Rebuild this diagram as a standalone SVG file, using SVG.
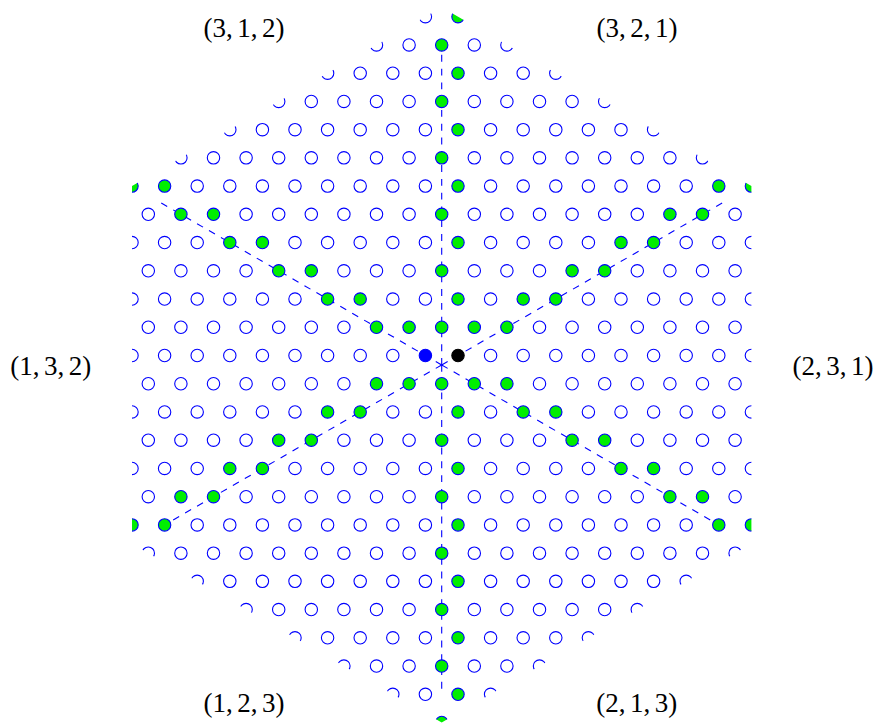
<svg xmlns="http://www.w3.org/2000/svg" width="876" height="723" viewBox="0 0 876 723">
<style>
.o circle{fill:#ffffff;stroke:#0000ff;stroke-width:1.1}
.g circle{fill:#00ee00;stroke:#0000ff;stroke-width:1.1}
.wall line{stroke:#0000ff;stroke-width:1.1;stroke-dasharray:6.89 6.89;fill:none}
.lbl{font-family:"Liberation Serif","DejaVu Serif",serif;font-size:27px;fill:#000000;text-anchor:middle}
</style>
<defs>
<clipPath id="hex"><polygon points="441.7,7.3 751.4,186.11 751.4,543.71 441.7,722.52 132,543.71 132,186.11"/></clipPath>
</defs>
<rect width="876" height="723" fill="#ffffff"/>
<g id="connectors" class="wall">
<line x1="441.7" y1="364.91" x2="441.7" y2="40.91"/>
<line x1="441.7" y1="364.91" x2="441.7" y2="688.91"/>
<line x1="441.7" y1="364.91" x2="161.11" y2="202.91"/>
<line x1="441.7" y1="364.91" x2="722.29" y2="202.91"/>
<line x1="441.7" y1="364.91" x2="161.11" y2="526.91"/>
<line x1="441.7" y1="364.91" x2="722.29" y2="526.91"/>
</g>
<g id="lattice" clip-path="url(#hex)">
<g id="open-points" class="o">
<circle cx="425.4" cy="16.71" r="6.2"/>
<circle cx="376.5" cy="44.94" r="6.2"/><circle cx="409.1" cy="44.94" r="6.2"/><circle cx="474.3" cy="44.94" r="6.2"/><circle cx="506.9" cy="44.94" r="6.2"/>
<circle cx="327.6" cy="73.18" r="6.2"/><circle cx="360.2" cy="73.18" r="6.2"/><circle cx="392.8" cy="73.18" r="6.2"/><circle cx="425.4" cy="73.18" r="6.2"/><circle cx="490.6" cy="73.18" r="6.2"/><circle cx="523.2" cy="73.18" r="6.2"/><circle cx="555.8" cy="73.18" r="6.2"/>
<circle cx="278.7" cy="101.41" r="6.2"/><circle cx="311.3" cy="101.41" r="6.2"/><circle cx="343.9" cy="101.41" r="6.2"/><circle cx="376.5" cy="101.41" r="6.2"/><circle cx="409.1" cy="101.41" r="6.2"/><circle cx="474.3" cy="101.41" r="6.2"/><circle cx="506.9" cy="101.41" r="6.2"/><circle cx="539.5" cy="101.41" r="6.2"/><circle cx="572.1" cy="101.41" r="6.2"/><circle cx="604.7" cy="101.41" r="6.2"/>
<circle cx="229.8" cy="129.64" r="6.2"/><circle cx="262.4" cy="129.64" r="6.2"/><circle cx="295" cy="129.64" r="6.2"/><circle cx="327.6" cy="129.64" r="6.2"/><circle cx="360.2" cy="129.64" r="6.2"/><circle cx="392.8" cy="129.64" r="6.2"/><circle cx="425.4" cy="129.64" r="6.2"/><circle cx="490.6" cy="129.64" r="6.2"/><circle cx="523.2" cy="129.64" r="6.2"/><circle cx="555.8" cy="129.64" r="6.2"/><circle cx="588.4" cy="129.64" r="6.2"/><circle cx="621" cy="129.64" r="6.2"/><circle cx="653.6" cy="129.64" r="6.2"/>
<circle cx="180.9" cy="157.87" r="6.2"/><circle cx="213.5" cy="157.87" r="6.2"/><circle cx="246.1" cy="157.87" r="6.2"/><circle cx="278.7" cy="157.87" r="6.2"/><circle cx="311.3" cy="157.87" r="6.2"/><circle cx="343.9" cy="157.87" r="6.2"/><circle cx="376.5" cy="157.87" r="6.2"/><circle cx="409.1" cy="157.87" r="6.2"/><circle cx="474.3" cy="157.87" r="6.2"/><circle cx="506.9" cy="157.87" r="6.2"/><circle cx="539.5" cy="157.87" r="6.2"/><circle cx="572.1" cy="157.87" r="6.2"/><circle cx="604.7" cy="157.87" r="6.2"/><circle cx="637.3" cy="157.87" r="6.2"/><circle cx="669.9" cy="157.87" r="6.2"/><circle cx="702.5" cy="157.87" r="6.2"/>
<circle cx="197.2" cy="186.11" r="6.2"/><circle cx="229.8" cy="186.11" r="6.2"/><circle cx="262.4" cy="186.11" r="6.2"/><circle cx="295" cy="186.11" r="6.2"/><circle cx="327.6" cy="186.11" r="6.2"/><circle cx="360.2" cy="186.11" r="6.2"/><circle cx="392.8" cy="186.11" r="6.2"/><circle cx="425.4" cy="186.11" r="6.2"/><circle cx="490.6" cy="186.11" r="6.2"/><circle cx="523.2" cy="186.11" r="6.2"/><circle cx="555.8" cy="186.11" r="6.2"/><circle cx="588.4" cy="186.11" r="6.2"/><circle cx="621" cy="186.11" r="6.2"/><circle cx="653.6" cy="186.11" r="6.2"/><circle cx="686.2" cy="186.11" r="6.2"/>
<circle cx="148.3" cy="214.34" r="6.2"/><circle cx="246.1" cy="214.34" r="6.2"/><circle cx="278.7" cy="214.34" r="6.2"/><circle cx="311.3" cy="214.34" r="6.2"/><circle cx="343.9" cy="214.34" r="6.2"/><circle cx="376.5" cy="214.34" r="6.2"/><circle cx="409.1" cy="214.34" r="6.2"/><circle cx="474.3" cy="214.34" r="6.2"/><circle cx="506.9" cy="214.34" r="6.2"/><circle cx="539.5" cy="214.34" r="6.2"/><circle cx="572.1" cy="214.34" r="6.2"/><circle cx="604.7" cy="214.34" r="6.2"/><circle cx="637.3" cy="214.34" r="6.2"/><circle cx="735.1" cy="214.34" r="6.2"/>
<circle cx="132" cy="242.57" r="6.2"/><circle cx="164.6" cy="242.57" r="6.2"/><circle cx="197.2" cy="242.57" r="6.2"/><circle cx="295" cy="242.57" r="6.2"/><circle cx="327.6" cy="242.57" r="6.2"/><circle cx="360.2" cy="242.57" r="6.2"/><circle cx="392.8" cy="242.57" r="6.2"/><circle cx="425.4" cy="242.57" r="6.2"/><circle cx="490.6" cy="242.57" r="6.2"/><circle cx="523.2" cy="242.57" r="6.2"/><circle cx="555.8" cy="242.57" r="6.2"/><circle cx="588.4" cy="242.57" r="6.2"/><circle cx="686.2" cy="242.57" r="6.2"/><circle cx="718.8" cy="242.57" r="6.2"/><circle cx="751.4" cy="242.57" r="6.2"/>
<circle cx="148.3" cy="270.8" r="6.2"/><circle cx="180.9" cy="270.8" r="6.2"/><circle cx="213.5" cy="270.8" r="6.2"/><circle cx="246.1" cy="270.8" r="6.2"/><circle cx="343.9" cy="270.8" r="6.2"/><circle cx="376.5" cy="270.8" r="6.2"/><circle cx="409.1" cy="270.8" r="6.2"/><circle cx="474.3" cy="270.8" r="6.2"/><circle cx="506.9" cy="270.8" r="6.2"/><circle cx="539.5" cy="270.8" r="6.2"/><circle cx="637.3" cy="270.8" r="6.2"/><circle cx="669.9" cy="270.8" r="6.2"/><circle cx="702.5" cy="270.8" r="6.2"/><circle cx="735.1" cy="270.8" r="6.2"/>
<circle cx="132" cy="299.04" r="6.2"/><circle cx="164.6" cy="299.04" r="6.2"/><circle cx="197.2" cy="299.04" r="6.2"/><circle cx="229.8" cy="299.04" r="6.2"/><circle cx="262.4" cy="299.04" r="6.2"/><circle cx="295" cy="299.04" r="6.2"/><circle cx="392.8" cy="299.04" r="6.2"/><circle cx="425.4" cy="299.04" r="6.2"/><circle cx="490.6" cy="299.04" r="6.2"/><circle cx="588.4" cy="299.04" r="6.2"/><circle cx="621" cy="299.04" r="6.2"/><circle cx="653.6" cy="299.04" r="6.2"/><circle cx="686.2" cy="299.04" r="6.2"/><circle cx="718.8" cy="299.04" r="6.2"/><circle cx="751.4" cy="299.04" r="6.2"/>
<circle cx="148.3" cy="327.27" r="6.2"/><circle cx="180.9" cy="327.27" r="6.2"/><circle cx="213.5" cy="327.27" r="6.2"/><circle cx="246.1" cy="327.27" r="6.2"/><circle cx="278.7" cy="327.27" r="6.2"/><circle cx="311.3" cy="327.27" r="6.2"/><circle cx="343.9" cy="327.27" r="6.2"/><circle cx="539.5" cy="327.27" r="6.2"/><circle cx="572.1" cy="327.27" r="6.2"/><circle cx="604.7" cy="327.27" r="6.2"/><circle cx="637.3" cy="327.27" r="6.2"/><circle cx="669.9" cy="327.27" r="6.2"/><circle cx="702.5" cy="327.27" r="6.2"/><circle cx="735.1" cy="327.27" r="6.2"/>
<circle cx="132" cy="355.5" r="6.2"/><circle cx="164.6" cy="355.5" r="6.2"/><circle cx="197.2" cy="355.5" r="6.2"/><circle cx="229.8" cy="355.5" r="6.2"/><circle cx="262.4" cy="355.5" r="6.2"/><circle cx="295" cy="355.5" r="6.2"/><circle cx="327.6" cy="355.5" r="6.2"/><circle cx="360.2" cy="355.5" r="6.2"/><circle cx="392.8" cy="355.5" r="6.2"/><circle cx="490.6" cy="355.5" r="6.2"/><circle cx="523.2" cy="355.5" r="6.2"/><circle cx="555.8" cy="355.5" r="6.2"/><circle cx="588.4" cy="355.5" r="6.2"/><circle cx="621" cy="355.5" r="6.2"/><circle cx="653.6" cy="355.5" r="6.2"/><circle cx="686.2" cy="355.5" r="6.2"/><circle cx="718.8" cy="355.5" r="6.2"/><circle cx="751.4" cy="355.5" r="6.2"/>
<circle cx="148.3" cy="383.73" r="6.2"/><circle cx="180.9" cy="383.73" r="6.2"/><circle cx="213.5" cy="383.73" r="6.2"/><circle cx="246.1" cy="383.73" r="6.2"/><circle cx="278.7" cy="383.73" r="6.2"/><circle cx="311.3" cy="383.73" r="6.2"/><circle cx="343.9" cy="383.73" r="6.2"/><circle cx="539.5" cy="383.73" r="6.2"/><circle cx="572.1" cy="383.73" r="6.2"/><circle cx="604.7" cy="383.73" r="6.2"/><circle cx="637.3" cy="383.73" r="6.2"/><circle cx="669.9" cy="383.73" r="6.2"/><circle cx="702.5" cy="383.73" r="6.2"/><circle cx="735.1" cy="383.73" r="6.2"/>
<circle cx="132" cy="411.96" r="6.2"/><circle cx="164.6" cy="411.96" r="6.2"/><circle cx="197.2" cy="411.96" r="6.2"/><circle cx="229.8" cy="411.96" r="6.2"/><circle cx="262.4" cy="411.96" r="6.2"/><circle cx="295" cy="411.96" r="6.2"/><circle cx="392.8" cy="411.96" r="6.2"/><circle cx="425.4" cy="411.96" r="6.2"/><circle cx="490.6" cy="411.96" r="6.2"/><circle cx="588.4" cy="411.96" r="6.2"/><circle cx="621" cy="411.96" r="6.2"/><circle cx="653.6" cy="411.96" r="6.2"/><circle cx="686.2" cy="411.96" r="6.2"/><circle cx="718.8" cy="411.96" r="6.2"/><circle cx="751.4" cy="411.96" r="6.2"/>
<circle cx="148.3" cy="440.2" r="6.2"/><circle cx="180.9" cy="440.2" r="6.2"/><circle cx="213.5" cy="440.2" r="6.2"/><circle cx="246.1" cy="440.2" r="6.2"/><circle cx="343.9" cy="440.2" r="6.2"/><circle cx="376.5" cy="440.2" r="6.2"/><circle cx="409.1" cy="440.2" r="6.2"/><circle cx="474.3" cy="440.2" r="6.2"/><circle cx="506.9" cy="440.2" r="6.2"/><circle cx="539.5" cy="440.2" r="6.2"/><circle cx="637.3" cy="440.2" r="6.2"/><circle cx="669.9" cy="440.2" r="6.2"/><circle cx="702.5" cy="440.2" r="6.2"/><circle cx="735.1" cy="440.2" r="6.2"/>
<circle cx="132" cy="468.43" r="6.2"/><circle cx="164.6" cy="468.43" r="6.2"/><circle cx="197.2" cy="468.43" r="6.2"/><circle cx="295" cy="468.43" r="6.2"/><circle cx="327.6" cy="468.43" r="6.2"/><circle cx="360.2" cy="468.43" r="6.2"/><circle cx="392.8" cy="468.43" r="6.2"/><circle cx="425.4" cy="468.43" r="6.2"/><circle cx="490.6" cy="468.43" r="6.2"/><circle cx="523.2" cy="468.43" r="6.2"/><circle cx="555.8" cy="468.43" r="6.2"/><circle cx="588.4" cy="468.43" r="6.2"/><circle cx="686.2" cy="468.43" r="6.2"/><circle cx="718.8" cy="468.43" r="6.2"/><circle cx="751.4" cy="468.43" r="6.2"/>
<circle cx="148.3" cy="496.66" r="6.2"/><circle cx="246.1" cy="496.66" r="6.2"/><circle cx="278.7" cy="496.66" r="6.2"/><circle cx="311.3" cy="496.66" r="6.2"/><circle cx="343.9" cy="496.66" r="6.2"/><circle cx="376.5" cy="496.66" r="6.2"/><circle cx="409.1" cy="496.66" r="6.2"/><circle cx="474.3" cy="496.66" r="6.2"/><circle cx="506.9" cy="496.66" r="6.2"/><circle cx="539.5" cy="496.66" r="6.2"/><circle cx="572.1" cy="496.66" r="6.2"/><circle cx="604.7" cy="496.66" r="6.2"/><circle cx="637.3" cy="496.66" r="6.2"/><circle cx="735.1" cy="496.66" r="6.2"/>
<circle cx="197.2" cy="524.89" r="6.2"/><circle cx="229.8" cy="524.89" r="6.2"/><circle cx="262.4" cy="524.89" r="6.2"/><circle cx="295" cy="524.89" r="6.2"/><circle cx="327.6" cy="524.89" r="6.2"/><circle cx="360.2" cy="524.89" r="6.2"/><circle cx="392.8" cy="524.89" r="6.2"/><circle cx="425.4" cy="524.89" r="6.2"/><circle cx="490.6" cy="524.89" r="6.2"/><circle cx="523.2" cy="524.89" r="6.2"/><circle cx="555.8" cy="524.89" r="6.2"/><circle cx="588.4" cy="524.89" r="6.2"/><circle cx="621" cy="524.89" r="6.2"/><circle cx="653.6" cy="524.89" r="6.2"/><circle cx="686.2" cy="524.89" r="6.2"/>
<circle cx="148.3" cy="553.13" r="6.2"/><circle cx="180.9" cy="553.13" r="6.2"/><circle cx="213.5" cy="553.13" r="6.2"/><circle cx="246.1" cy="553.13" r="6.2"/><circle cx="278.7" cy="553.13" r="6.2"/><circle cx="311.3" cy="553.13" r="6.2"/><circle cx="343.9" cy="553.13" r="6.2"/><circle cx="376.5" cy="553.13" r="6.2"/><circle cx="409.1" cy="553.13" r="6.2"/><circle cx="474.3" cy="553.13" r="6.2"/><circle cx="506.9" cy="553.13" r="6.2"/><circle cx="539.5" cy="553.13" r="6.2"/><circle cx="572.1" cy="553.13" r="6.2"/><circle cx="604.7" cy="553.13" r="6.2"/><circle cx="637.3" cy="553.13" r="6.2"/><circle cx="669.9" cy="553.13" r="6.2"/><circle cx="702.5" cy="553.13" r="6.2"/><circle cx="735.1" cy="553.13" r="6.2"/>
<circle cx="197.2" cy="581.36" r="6.2"/><circle cx="229.8" cy="581.36" r="6.2"/><circle cx="262.4" cy="581.36" r="6.2"/><circle cx="295" cy="581.36" r="6.2"/><circle cx="327.6" cy="581.36" r="6.2"/><circle cx="360.2" cy="581.36" r="6.2"/><circle cx="392.8" cy="581.36" r="6.2"/><circle cx="425.4" cy="581.36" r="6.2"/><circle cx="490.6" cy="581.36" r="6.2"/><circle cx="523.2" cy="581.36" r="6.2"/><circle cx="555.8" cy="581.36" r="6.2"/><circle cx="588.4" cy="581.36" r="6.2"/><circle cx="621" cy="581.36" r="6.2"/><circle cx="653.6" cy="581.36" r="6.2"/><circle cx="686.2" cy="581.36" r="6.2"/>
<circle cx="246.1" cy="609.59" r="6.2"/><circle cx="278.7" cy="609.59" r="6.2"/><circle cx="311.3" cy="609.59" r="6.2"/><circle cx="343.9" cy="609.59" r="6.2"/><circle cx="376.5" cy="609.59" r="6.2"/><circle cx="409.1" cy="609.59" r="6.2"/><circle cx="474.3" cy="609.59" r="6.2"/><circle cx="506.9" cy="609.59" r="6.2"/><circle cx="539.5" cy="609.59" r="6.2"/><circle cx="572.1" cy="609.59" r="6.2"/><circle cx="604.7" cy="609.59" r="6.2"/><circle cx="637.3" cy="609.59" r="6.2"/>
<circle cx="295" cy="637.82" r="6.2"/><circle cx="327.6" cy="637.82" r="6.2"/><circle cx="360.2" cy="637.82" r="6.2"/><circle cx="392.8" cy="637.82" r="6.2"/><circle cx="425.4" cy="637.82" r="6.2"/><circle cx="490.6" cy="637.82" r="6.2"/><circle cx="523.2" cy="637.82" r="6.2"/><circle cx="555.8" cy="637.82" r="6.2"/><circle cx="588.4" cy="637.82" r="6.2"/>
<circle cx="343.9" cy="666.06" r="6.2"/><circle cx="376.5" cy="666.06" r="6.2"/><circle cx="409.1" cy="666.06" r="6.2"/><circle cx="474.3" cy="666.06" r="6.2"/><circle cx="506.9" cy="666.06" r="6.2"/><circle cx="539.5" cy="666.06" r="6.2"/>
<circle cx="392.8" cy="694.29" r="6.2"/><circle cx="425.4" cy="694.29" r="6.2"/><circle cx="490.6" cy="694.29" r="6.2"/>
</g>
<g id="green-points" class="g">
<circle cx="458" cy="16.71" r="6.2"/>
<circle cx="441.7" cy="44.94" r="6.2"/>
<circle cx="458" cy="73.18" r="6.2"/>
<circle cx="441.7" cy="101.41" r="6.2"/>
<circle cx="458" cy="129.64" r="6.2"/>
<circle cx="441.7" cy="157.87" r="6.2"/>
<circle cx="132" cy="186.11" r="6.2"/><circle cx="164.6" cy="186.11" r="6.2"/><circle cx="458" cy="186.11" r="6.2"/><circle cx="718.8" cy="186.11" r="6.2"/><circle cx="751.4" cy="186.11" r="6.2"/>
<circle cx="180.9" cy="214.34" r="6.2"/><circle cx="213.5" cy="214.34" r="6.2"/><circle cx="441.7" cy="214.34" r="6.2"/><circle cx="669.9" cy="214.34" r="6.2"/><circle cx="702.5" cy="214.34" r="6.2"/>
<circle cx="229.8" cy="242.57" r="6.2"/><circle cx="262.4" cy="242.57" r="6.2"/><circle cx="458" cy="242.57" r="6.2"/><circle cx="621" cy="242.57" r="6.2"/><circle cx="653.6" cy="242.57" r="6.2"/>
<circle cx="278.7" cy="270.8" r="6.2"/><circle cx="311.3" cy="270.8" r="6.2"/><circle cx="441.7" cy="270.8" r="6.2"/><circle cx="572.1" cy="270.8" r="6.2"/><circle cx="604.7" cy="270.8" r="6.2"/>
<circle cx="327.6" cy="299.04" r="6.2"/><circle cx="360.2" cy="299.04" r="6.2"/><circle cx="458" cy="299.04" r="6.2"/><circle cx="523.2" cy="299.04" r="6.2"/><circle cx="555.8" cy="299.04" r="6.2"/>
<circle cx="376.5" cy="327.27" r="6.2"/><circle cx="409.1" cy="327.27" r="6.2"/><circle cx="441.7" cy="327.27" r="6.2"/><circle cx="474.3" cy="327.27" r="6.2"/><circle cx="506.9" cy="327.27" r="6.2"/>
<circle cx="376.5" cy="383.73" r="6.2"/><circle cx="409.1" cy="383.73" r="6.2"/><circle cx="441.7" cy="383.73" r="6.2"/><circle cx="474.3" cy="383.73" r="6.2"/><circle cx="506.9" cy="383.73" r="6.2"/>
<circle cx="327.6" cy="411.96" r="6.2"/><circle cx="360.2" cy="411.96" r="6.2"/><circle cx="458" cy="411.96" r="6.2"/><circle cx="523.2" cy="411.96" r="6.2"/><circle cx="555.8" cy="411.96" r="6.2"/>
<circle cx="278.7" cy="440.2" r="6.2"/><circle cx="311.3" cy="440.2" r="6.2"/><circle cx="441.7" cy="440.2" r="6.2"/><circle cx="572.1" cy="440.2" r="6.2"/><circle cx="604.7" cy="440.2" r="6.2"/>
<circle cx="229.8" cy="468.43" r="6.2"/><circle cx="262.4" cy="468.43" r="6.2"/><circle cx="458" cy="468.43" r="6.2"/><circle cx="621" cy="468.43" r="6.2"/><circle cx="653.6" cy="468.43" r="6.2"/>
<circle cx="180.9" cy="496.66" r="6.2"/><circle cx="213.5" cy="496.66" r="6.2"/><circle cx="441.7" cy="496.66" r="6.2"/><circle cx="669.9" cy="496.66" r="6.2"/><circle cx="702.5" cy="496.66" r="6.2"/>
<circle cx="132" cy="524.89" r="6.2"/><circle cx="164.6" cy="524.89" r="6.2"/><circle cx="458" cy="524.89" r="6.2"/><circle cx="718.8" cy="524.89" r="6.2"/><circle cx="751.4" cy="524.89" r="6.2"/>
<circle cx="441.7" cy="553.13" r="6.2"/>
<circle cx="458" cy="581.36" r="6.2"/>
<circle cx="441.7" cy="609.59" r="6.2"/>
<circle cx="458" cy="637.82" r="6.2"/>
<circle cx="441.7" cy="666.06" r="6.2"/>
<circle cx="458" cy="694.29" r="6.2"/>
<circle cx="441.7" cy="722.52" r="6.2"/>
</g>
<g id="blue-point"><circle cx="425.4" cy="355.5" r="6.2" fill="#0000ff" stroke="#0000ff" stroke-width="1.1"/></g>
<g id="black-point"><circle cx="458" cy="355.5" r="6.2" fill="#000000" stroke="#000000" stroke-width="1.1"/></g>
</g>
<g id="label-312"><text class="lbl" x="244" y="36.5">(3,<tspan dx="4.5">1,</tspan><tspan dx="4.5">2)</tspan></text></g>
<g id="label-321"><text class="lbl" x="637" y="36.5">(3,<tspan dx="4.5">2,</tspan><tspan dx="4.5">1)</tspan></text></g>
<g id="label-132"><text class="lbl" x="50.8" y="374.6">(1,<tspan dx="4.5">3,</tspan><tspan dx="4.5">2)</tspan></text></g>
<g id="label-231"><text class="lbl" x="833" y="374.6">(2,<tspan dx="4.5">3,</tspan><tspan dx="4.5">1)</tspan></text></g>
<g id="label-123"><text class="lbl" x="244" y="711.5">(1,<tspan dx="4.5">2,</tspan><tspan dx="4.5">3)</tspan></text></g>
<g id="label-213"><text class="lbl" x="636.7" y="711.5">(2,<tspan dx="4.5">1,</tspan><tspan dx="4.5">3)</tspan></text></g>
</svg>
